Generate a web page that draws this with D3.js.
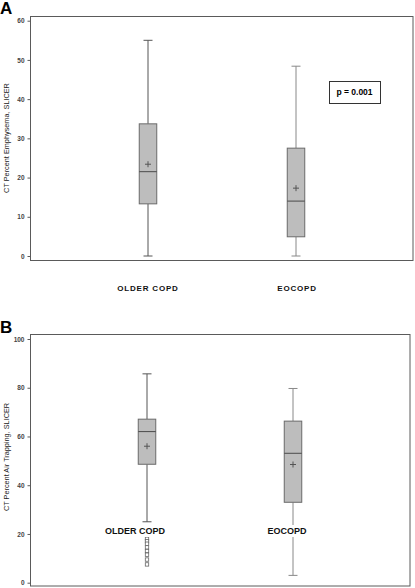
<!DOCTYPE html>
<html><head><meta charset="utf-8">
<script src="https://cdn.jsdelivr.net/npm/d3@7/dist/d3.min.js"></script>
<style>body{margin:0;background:#fff}svg{display:block}</style>
</head><body>
<svg id="c" width="415" height="588"></svg>
<script>
const categories = ["OLDER COPD", "EOCOPD"];
// Panel A: CT Percent Emphysema
const aMin = [0, 0], aQ1 = [13.3, 4.9], aMed = [21.5, 14.0], aQ3 = [33.7, 27.5], aMax = [55, 48.4], aMean = [23.4, 17.3];
const aTicks = [0, 10, 20, 30, 40, 50, 60];
// Panel B: CT Percent Air Trapping
const bMin = [25, 3], bQ1 = [48.6, 33], bMed = [62, 53.1], bQ3 = [67.1, 66.3], bMax = [85.7, 79.7], bMean = [56, 48.5];
const bOutliers = [[18, 17, 16, 14.5, 13, 11.5, 9.5, 7.5], []];
const bTicks = [0, 20, 40, 60, 80, 100];
const pText = "p = 0.001";

const svg = d3.select("#c");
const font = "Liberation Sans, Arial, sans-serif";

function panel(o) {
  const g = svg.append("g");
  const y = d3.scaleLinear().domain(o.domain).range(o.yRange);
  const x = d3.scalePoint().domain(categories).range(o.xCenters);
  g.append("rect").attr("x", o.frame[0]).attr("y", o.frame[1])
    .attr("width", o.frame[2] - o.frame[0]).attr("height", o.frame[3] - o.frame[1])
    .attr("fill", "none").attr("stroke", "#5a5a5a").attr("stroke-width", 1);
  const ax = g.append("g").attr("transform", `translate(${o.frame[0]},0)`)
    .call(d3.axisLeft(y).tickValues(o.ticks).tickSize(3).tickPadding(3));
  ax.select(".domain").remove();
  ax.selectAll(".tick line").attr("stroke", "#5a5a5a");
  ax.selectAll(".tick text").attr("font-family", font).attr("font-size", 6.5)
    .attr("font-weight", "bold").attr("fill", "#444");
  g.append("text").attr("transform", `translate(9,${o.labelY}) rotate(-90)`)
    .attr("text-anchor", "middle").attr("font-family", font).attr("font-size", 7.3)
    .attr("fill", "#222").text(o.yLabel);
  g.append("text").attr("x", 0).attr("y", o.letterY).attr("font-family", font)
    .attr("font-size", 17).attr("font-weight", "bold").text(o.letter);
  const bw = 17.5, cw = 9;
  categories.forEach((c, i) => {
    const cx = x(c);
    const wc = o.whiskerColors[i];
    g.append("line").attr("x1", cx).attr("x2", cx).attr("y1", y(o.max[i])).attr("y2", y(o.q3[i])).attr("stroke", wc);
    g.append("line").attr("x1", cx).attr("x2", cx).attr("y1", y(o.q1[i])).attr("y2", y(o.min[i])).attr("stroke", wc);
    [o.max[i], o.min[i]].forEach(v => g.append("line").attr("x1", cx - cw / 2).attr("x2", cx + cw / 2)
      .attr("y1", y(v)).attr("y2", y(v)).attr("stroke", wc));
    g.append("rect").attr("x", cx - bw / 2).attr("y", y(o.q3[i])).attr("width", bw)
      .attr("height", y(o.q1[i]) - y(o.q3[i])).attr("fill", "#bdbdbd").attr("stroke", "#6a6a6a");
    g.append("line").attr("x1", cx - bw / 2).attr("x2", cx + bw / 2).attr("y1", y(o.med[i])).attr("y2", y(o.med[i]))
      .attr("stroke", "#4a4a4a");
    const my = y(o.mean[i]);
    g.append("line").attr("x1", cx - 3).attr("x2", cx + 3).attr("y1", my).attr("y2", my).attr("stroke", "#555");
    g.append("line").attr("x1", cx).attr("x2", cx).attr("y1", my - 3).attr("y2", my + 3).attr("stroke", "#555");
    (o.outliers ? o.outliers[i] : []).forEach(v => g.append("rect").attr("x", cx - 1.7).attr("y", y(v) - 1.7)
      .attr("width", 3.4).attr("height", 3.4).attr("fill", "#fff").attr("stroke", "#666").attr("stroke-width", 0.8));
    const t = g.append("text").attr("x", o.catX[i]).attr("y", o.catY).attr("text-anchor", "middle")
      .attr("font-family", font).attr("font-size", o.catSize).attr("font-weight", "bold")
      .attr("letter-spacing", o.catSpacing).attr("fill", "#111").text(c);
    if (o.catBg) {
      const bb = t.node().getBBox();
      g.insert("rect", () => t.node()).attr("x", bb.x - 1).attr("y", bb.y - 1)
        .attr("width", bb.width + 2).attr("height", bb.height + 2).attr("fill", "#fff");
    }
  });
  return g;
}

const gA = panel({
  letter: "A", letterY: 14, domain: [0, 60], yRange: [256, 20.7], ticks: aTicks,
  frame: [30.5, 16.5, 413, 260.5], xCenters: [148, 296],
  min: aMin, q1: aQ1, med: aMed, q3: aQ3, max: aMax, mean: aMean,
  whiskerColors: ["#555", "#888"],
  yLabel: "CT Percent Emphysema, SLICER", labelY: 138,
  catX: [148, 297], catY: 291, catSize: 8, catSpacing: 0.8, catBg: false
});
gA.append("rect").attr("x", 329.5).attr("y", 81.5).attr("width", 51).attr("height", 22)
  .attr("fill", "#fff").attr("stroke", "#333");
gA.append("text").attr("x", 354.5).attr("y", 95).attr("text-anchor", "middle")
  .attr("font-family", font).attr("font-size", 8.5).attr("font-weight", "bold").text(pText);

panel({
  letter: "B", letterY: 333, domain: [0, 100], yRange: [582.7, 339], ticks: bTicks,
  frame: [30.5, 334.5, 410, 586], xCenters: [147, 293],
  min: bMin, q1: bQ1, med: bMed, q3: bQ3, max: bMax, mean: bMean, outliers: bOutliers,
  whiskerColors: ["#555", "#888"],
  yLabel: "CT Percent Air Trapping, SLICER", labelY: 457,
  catX: [135, 287], catY: 534, catSize: 9, catSpacing: 0, catBg: true
});
</script>
</body></html>
